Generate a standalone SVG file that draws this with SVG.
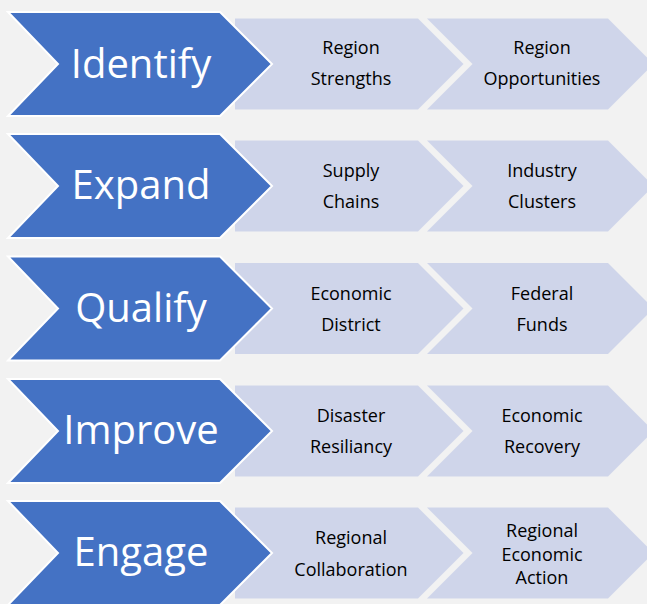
<svg xmlns="http://www.w3.org/2000/svg" width="647" height="604" viewBox="0 0 647 604">
<defs>
<style>
.bg{fill:#f2f2f2}
.main{fill:#4472c4;stroke:#ffffff;stroke-width:2;stroke-linejoin:miter}
.sub{fill:#cfd5ea}
.big{font-family:"Open Sans","Liberation Sans",sans-serif;font-size:40px;fill:#ffffff;text-anchor:middle}
.small{font-family:"Open Sans","Liberation Sans",sans-serif;font-size:18px;fill:#000000;text-anchor:middle}
</style>
<polygon id="mainShape" class="main" points="8,-52 220,-52 272,0 220,52 8,52 58,0"/>
<polygon id="subA" class="sub" points="235,-45.5 418,-45.5 463.5,0 418,45.5 235,45.5"/>
<polygon id="subB" class="sub" points="427,-45.5 608,-45.5 653.5,0 608,45.5 427,45.5 472.5,0"/>
</defs>
<rect class="bg" x="0" y="0" width="647" height="604"/>
<g id="connectors"/>
<g id="row-identify" transform="translate(0,64)">
<g id="n-region-strengths"><use href="#subA"/><text class="small" x="351" y="-10">Region</text><text class="small" x="351" y="21">Strengths</text></g>
<g id="n-region-opportunities"><use href="#subB"/><text class="small" x="542" y="-10">Region</text><text class="small" x="542" y="21">Opportunities</text></g>
<g id="n-identify"><use href="#mainShape"/><text class="big" x="141" y="14">Identify</text></g>
</g>
<g id="row-expand" transform="translate(0,186)">
<g id="n-supply-chains"><use href="#subA"/><text class="small" x="351" y="-9">Supply</text><text class="small" x="351" y="22">Chains</text></g>
<g id="n-industry-clusters"><use href="#subB"/><text class="small" x="542" y="-9">Industry</text><text class="small" x="542" y="22">Clusters</text></g>
<g id="n-expand"><use href="#mainShape"/><text class="big" x="141" y="13">Expand</text></g>
</g>
<g id="row-qualify" transform="translate(0,308.5)">
<g id="n-economic-district"><use href="#subA"/><text class="small" x="351" y="-9">Economic</text><text class="small" x="351" y="22">District</text></g>
<g id="n-federal-funds"><use href="#subB"/><text class="small" x="542" y="-9">Federal</text><text class="small" x="542" y="22">Funds</text></g>
<g id="n-qualify"><use href="#mainShape"/><text class="big" x="141" y="13">Qualify</text></g>
</g>
<g id="row-improve" transform="translate(0,431)">
<g id="n-disaster-resiliancy"><use href="#subA"/><text class="small" x="351" y="-9">Disaster</text><text class="small" x="351" y="22">Resiliancy</text></g>
<g id="n-economic-recovery"><use href="#subB"/><text class="small" x="542" y="-9">Economic</text><text class="small" x="542" y="22">Recovery</text></g>
<g id="n-improve"><use href="#mainShape"/><text class="big" x="141" y="13">Improve</text></g>
</g>
<g id="row-engage" transform="translate(0,553)">
<g id="n-regional-collaboration"><use href="#subA"/><text class="small" x="351" y="-9.5">Regional</text><text class="small" x="351" y="23">Collaboration</text></g>
<g id="n-regional-economic-action"><use href="#subB"/><text class="small" x="542" y="-16">Regional</text><text class="small" x="542" y="7.5">Economic</text><text class="small" x="542" y="31">Action</text></g>
<g id="n-engage"><use href="#mainShape"/><text class="big" x="141" y="13">Engage</text></g>
</g>
</svg>
